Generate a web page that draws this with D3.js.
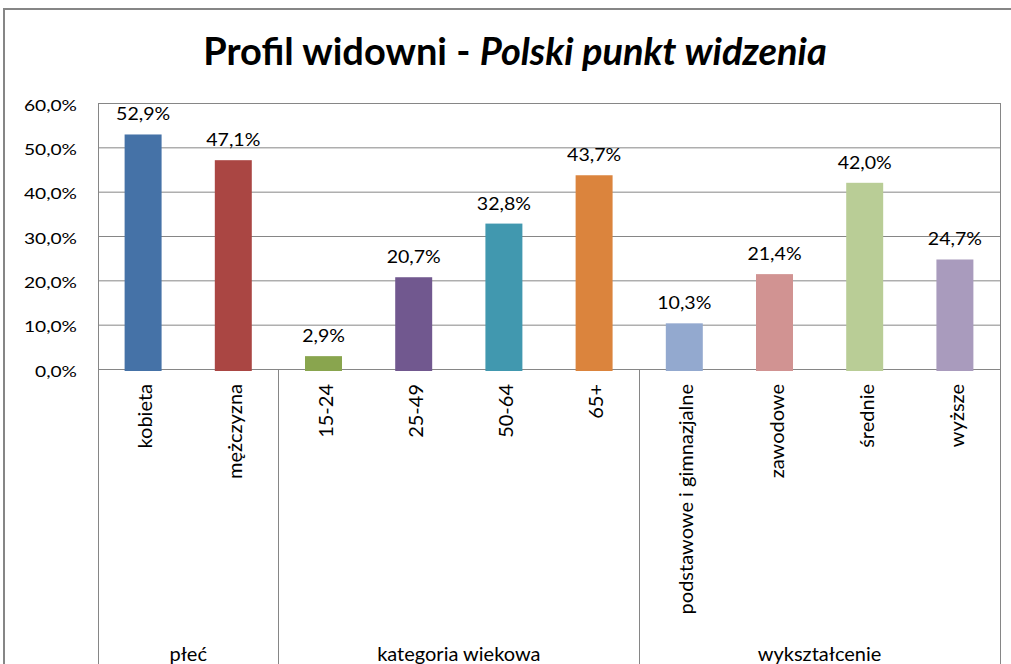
<!DOCTYPE html>
<html>
<head>
<meta charset="utf-8">
<script src="https://cdn.jsdelivr.net/npm/d3@7"></script>
<style>
  html, body { margin: 0; padding: 0; background: #fff; }
  svg { display: block; }
  text { font-family: Lato, "Open Sans", sans-serif; fill: #000; }
</style>
</head>
<body>
<svg id="chart" width="1011" height="664"></svg>
<script>
// ---- data ----
const categories = ["kobieta", "mężczyzna", "15-24", "25-49", "50-64", "65+",
  "podstawowe i gimnazjalne", "zawodowe", "średnie", "wyższe"];
const groups = ["płeć", "płeć", "kategoria wiekowa", "kategoria wiekowa", "kategoria wiekowa", "kategoria wiekowa",
  "wykształcenie", "wykształcenie", "wykształcenie", "wykształcenie"];
const values = [52.9, 47.1, 2.9, 20.7, 32.8, 43.7, 10.3, 21.4, 42.0, 24.7];
const yTicks = [0, 10, 20, 30, 40, 50, 60];
const colors = ["#4572A7", "#AA4643", "#89A54E", "#71588F", "#4198AF", "#DB843D",
  "#93A9CF", "#D19392", "#B9CD96", "#A99BBD"];
const titleMain = "Profil widowni - ";
const titleItalic = "Polski punkt widzenia";

// ---- layout ----
const W = 1011, H = 664;
const plot = { left: 98, right: 1000, top: 103, bottom: 369 };
const gridColor = "#868686";
const fmt = v => v.toFixed(1).replace(".", ",") + "%";

const svg = d3.select("#chart");

// outer chart border
svg.append("path")
  .attr("d", `M4,${H} V9 H${W}`)
  .attr("fill", "none").attr("stroke", gridColor).attr("stroke-width", 2);

// title
const title = svg.append("text")
  .attr("x", 515).attr("y", 65)
  .attr("text-anchor", "middle")
  .style("font-size", "38px").style("font-weight", "bold");
title.append("tspan").text(titleMain);
title.append("tspan").style("font-style", "italic").text(titleItalic);

const x = d3.scaleBand().domain(categories)
  .range([plot.left, plot.right]).paddingInner(0.59).paddingOuter(0.295);
const y = d3.scaleLinear().domain([0, 60]).range([plot.bottom, plot.top]);

// gridlines
svg.append("g").selectAll("line").data(yTicks).join("line")
  .attr("x1", plot.left).attr("x2", plot.right)
  .attr("y1", d => y(d) + 0.5).attr("y2", d => y(d) + 0.5)
  .attr("stroke", gridColor).attr("stroke-width", 1);

// y axis labels
const yAxis = d3.axisLeft(y).tickValues(yTicks).tickSize(0).tickPadding(21)
  .tickFormat(fmt);
svg.append("g").attr("transform", `translate(${plot.left},0)`).call(yAxis)
  .call(g => g.select(".domain").remove())
  .call(g => g.selectAll("text")
    .attr("x", 0).attr("dy", "0.45em")
    .attr("transform", "translate(-21,0) scale(1.2,1)")
    .style("font-size", "16px").style("font-family", "Lato, sans-serif").attr("fill", "#000"));

// vertical separators (left edge, group boundaries, right edge)
const step = x.step();
const gap = step - x.bandwidth();
const sepX = [x(categories[0]) - gap / 2];
categories.forEach((c, i) => {
  if (i > 0 && groups[i] !== groups[i - 1]) sepX.push(x(c) - gap / 2);
});
sepX.push(x(categories[categories.length - 1]) + x.bandwidth() + gap / 2);
svg.append("g").selectAll("line").data(sepX).join("line")
  .attr("x1", d => Math.round(d) + 0.5).attr("x2", d => Math.round(d) + 0.5)
  .attr("y1", (d, i) => (i === 0 || i === sepX.length - 1) ? plot.top : plot.bottom)
  .attr("y2", H)
  .attr("stroke", gridColor).attr("stroke-width", 1);

// bars
svg.append("g").selectAll("rect").data(values).join("rect")
  .attr("x", (d, i) => x(categories[i]))
  .attr("width", x.bandwidth())
  .attr("y", d => y(d))
  .attr("height", d => y(0) - y(d) + 2)
  .attr("fill", (d, i) => colors[i]);

// data labels
svg.append("g").selectAll("text").data(values).join("text")
  .attr("transform", (d, i) => `translate(${x(categories[i]) + x.bandwidth() / 2},${y(d) - 14}) scale(1.15,1)`)
  .attr("text-anchor", "middle")
  .style("font-size", "17px")
  .text(fmt);

// category labels (rotated)
svg.append("g").selectAll("text").data(categories).join("text")
  .attr("transform", c => `translate(${x(c) + x.bandwidth() / 2},${plot.bottom + 15}) rotate(-90)`)
  .attr("text-anchor", "end")
  .attr("dy", "0.45em")
  .style("font-size", "20px")
  .text(c => c);

// group labels
const groupNames = [...new Set(groups)];
svg.append("g").selectAll("text").data(groupNames).join("text")
  .attr("x", g => {
    const idx = groups.map((gg, i) => gg === g ? i : -1).filter(i => i >= 0);
    const a = x(categories[idx[0]]) - gap / 2;
    const b = x(categories[idx[idx.length - 1]]) + x.bandwidth() + gap / 2;
    return (a + b) / 2;
  })
  .attr("y", 661)
  .attr("text-anchor", "middle")
  .style("font-size", "20px")
  .text(g => g);
</script>
</body>
</html>
